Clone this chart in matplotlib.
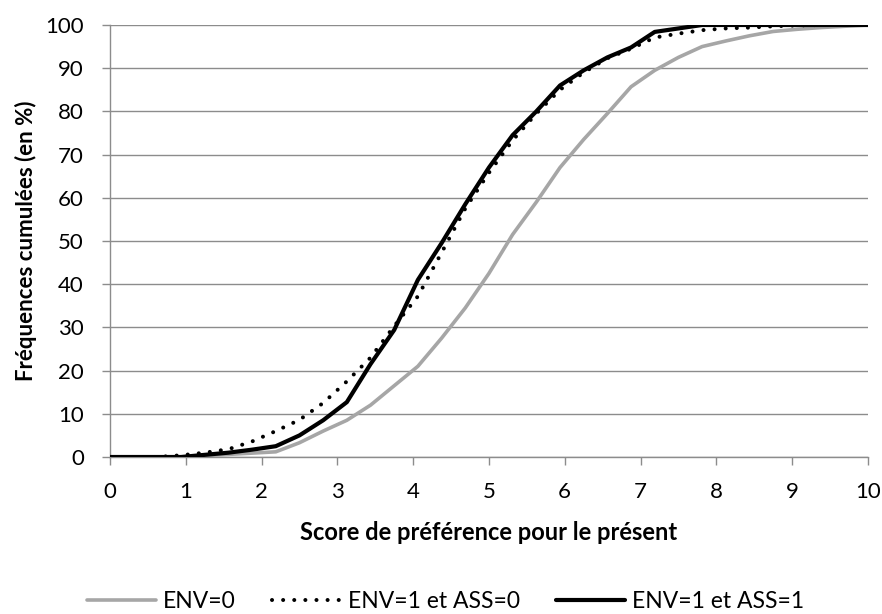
import matplotlib
matplotlib.use("Agg")
import matplotlib.pyplot as plt

plt.rcParams['font.family'] = ['Lato', 'DejaVu Sans']

x = [k * 0.3125 for k in range(33)]

env0 = [0, 0, 0, 0, 0.3, 0.6, 0.9, 1.2, 3.3, 6.0, 8.5, 12.0, 16.5, 21.0, 27.5, 34.5,
        42.5, 51.5, 59.0, 67.0, 73.5, 79.5, 85.7, 89.5, 92.5, 95.0, 96.3, 97.5, 98.5,
        99.0, 99.4, 99.7, 100]
env1_ass0 = [0, 0, 0, 0.4, 1.0, 1.8, 3.6, 6.0, 8.6, 12.5, 17.5, 23.0, 30.3, 37.2, 47.3,
             57.5, 65.8, 73.3, 79.5, 85.0, 89.0, 92.3, 94.5, 97.1, 98.0, 98.8, 99.2,
             99.4, 99.7, 99.9, 100, 100, 100]
env1_ass1 = [0, 0, 0, 0, 0.5, 1.0, 1.7, 2.5, 5.0, 8.5, 12.7, 21.5, 29.4, 41.0, 49.5,
             58.5, 67.0, 74.5, 80.0, 86.0, 89.5, 92.5, 94.8, 98.4, 99.2, 100, 100,
             100, 100, 100, 100, 100, 100]

labels = ['ENV=0', 'ENV=1 et ASS=0', 'ENV=1 et ASS=1']
xticks = list(range(0, 11))
yticks = list(range(0, 101, 10))

fig = plt.figure(figsize=(8.82, 6.14), dpi=100)
ax = fig.add_axes([0.1247, 0.2557, 0.8593, 0.7036])

ax.plot(x, env0, color='#a6a6a6', lw=2.6, solid_capstyle='round', label=labels[0], zorder=3)
ax.plot(x, env1_ass0, color='black', lw=2.9, linestyle=(0, (0.01, 2.75)),
        dash_capstyle='round', label=labels[1], zorder=4)
ax.plot(x, env1_ass1, color='black', lw=3.0, solid_capstyle='round', label=labels[2], zorder=5)

ax.set_xlim(0, 10)
ax.set_ylim(0, 100)
ax.set_xticks(xticks)
ax.set_yticks(yticks)
ax.yaxis.grid(True, color='#8c8c8c', lw=1.0)
ax.set_axisbelow(True)
for s in ['top', 'right']:
    ax.spines[s].set_visible(False)
for s in ['left', 'bottom']:
    ax.spines[s].set_color('#8c8c8c')
    ax.spines[s].set_linewidth(1.0)
ax.tick_params(axis='both', direction='out', length=5.8, width=1.0, color='#8c8c8c',
               labelsize=16)
ax.tick_params(axis='x', pad=12)
ax.tick_params(axis='y', pad=13)
ax.set_xlabel('Score de préférence pour le présent', fontsize=17, fontweight='bold', labelpad=14)
ax.set_ylabel('Fréquences cumulées (en %)', fontsize=16, fontweight='bold', labelpad=6)

fig.legend(loc='center', bbox_to_anchor=(0.505, 0.02), ncol=3, frameon=False,
           fontsize=16.5, handlelength=3.0, handletextpad=0.3, columnspacing=1.6)

fig.savefig('out.png', dpi=100)
